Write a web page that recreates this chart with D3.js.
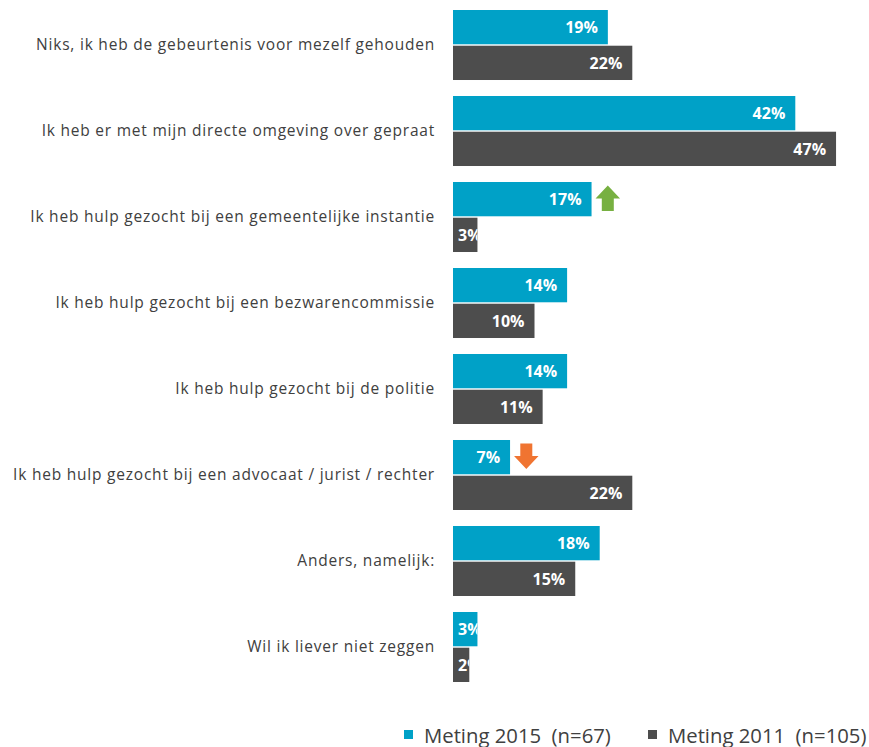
<!DOCTYPE html>
<html>
<head>
<meta charset="utf-8">
<script src="https://cdn.jsdelivr.net/npm/d3@7"></script>
<style>
  body { margin: 0; background: #fff; }
  svg { display: block; font-family: "Open Sans", sans-serif; }
</style>
</head>
<body>
<div id="chart"></div>
<script>
// data
var categories = [
    "Niks, ik heb de gebeurtenis voor mezelf gehouden",
    "Ik heb er met mijn directe omgeving over gepraat",
    "Ik heb hulp gezocht bij een gemeentelijke instantie",
    "Ik heb hulp gezocht bij een bezwarencommissie",
    "Ik heb hulp gezocht bij de politie",
    "Ik heb hulp gezocht bij een advocaat / jurist / rechter",
    "Anders, namelijk:",
    "Wil ik liever niet zeggen"
];
var values2015 = [19, 42, 17, 14, 14, 7, 18, 3];
var values2011 = [22, 47, 3, 10, 11, 22, 15, 2];
// significant change 2015 vs 2011
var trend = [null, null, "up", null, null, "down", null, null];
var seriesNames = ["Meting 2015  (n=67)", "Meting 2011  (n=105)"];
var seriesKeys = ["2015", "2011"];

var width = 869, height = 747;
var colors = {"2015": "#00A1C7", "2011": "#4D4D4D"};
var textColor = "#404040";

const svg = d3.select("#chart").append("svg")
    .attr("width", width)
    .attr("height", height);

// x axis (not drawn)
var x = d3.scaleLinear().domain([0, 50]).range([453, 860.5]);

// y bands per category, then per series
var y = d3.scaleBand().domain(categories).range([10, 682])
    .paddingInner(0.186).paddingOuter(0);
var ySub = d3.scaleBand().domain(seriesKeys).range([0, y.bandwidth()])
    .paddingInner(0.04);

// flatten to [category, series, value]
var rows = [];
categories.forEach(function (c, i) {
    rows.push({cat: c, key: "2015", value: values2015[i], idx: i});
    rows.push({cat: c, key: "2011", value: values2011[i], idx: i});
});

// category labels
svg.append("g").selectAll("text")
    .data(categories)
    .enter().append("text")
    .attr("x", 435)
    .attr("y", function (d) { return y(d) + y.bandwidth() / 2; })
    .attr("dy", "0.35em")
    .attr("text-anchor", "end")
    .attr("fill", textColor)
    .style("font-size", "15.5px")
    .style("letter-spacing", "0.78px")
    .text(function (d) { return d; });

// clip paths so labels never leave the bar
var defs = svg.append("defs");
defs.selectAll("clipPath")
    .data(rows)
    .enter().append("clipPath")
    .attr("id", function (d, i) { return "clip" + i; })
    .append("rect")
    .attr("x", x(0))
    .attr("y", function (d) { return y(d.cat) + ySub(d.key); })
    .attr("width", function (d) { return x(d.value) - x(0); })
    .attr("height", ySub.bandwidth());

var bars = svg.append("g").selectAll("g")
    .data(rows)
    .enter().append("g");

bars.append("rect")
    .attr("x", x(0))
    .attr("y", function (d) { return y(d.cat) + ySub(d.key); })
    .attr("width", function (d) { return x(d.value) - x(0); })
    .attr("height", ySub.bandwidth())
    .attr("fill", function (d) { return colors[d.key]; });

bars.append("text")
    .attr("clip-path", function (d, i) { return "url(#clip" + i + ")"; })
    .attr("y", function (d) { return y(d.cat) + ySub(d.key) + ySub.bandwidth() / 2; })
    .attr("dy", "0.36em")
    .attr("text-anchor", "end")
    .attr("fill", "#fff")
    .style("font-size", "16px")
    .style("font-weight", "bold")
    .text(function (d) { return d.value + "%"; })
    .attr("x", function (d) {
        var len = this.getComputedTextLength();
        return Math.max(x(d.value) - 10, x(0) + 5 + len);
    });

// trend arrows next to the 2015 bar
var arrowColor = {up: "#77B041", down: "#F07431"};
svg.append("g").selectAll("path")
    .data(rows.filter(function (d) { return d.key == "2015" && trend[d.idx]; }))
    .enter().append("path")
    .attr("fill", function (d) { return arrowColor[trend[d.idx]]; })
    .attr("d", function (d) {
        var left = x(d.value) + 4;
        var cy = y(d.cat) + ySub(d.key) + ySub.bandwidth() / 2 - 1;
        var w = 24.5, h = 25.5, sw = 12, hh = 13;
        var p = d3.path();
        var cx = left + w / 2;
        if (trend[d.idx] == "up") {
            var top = cy - h / 2;
            p.moveTo(cx, top);
            p.lineTo(left + w, top + hh);
            p.lineTo(cx + sw / 2, top + hh);
            p.lineTo(cx + sw / 2, top + h);
            p.lineTo(cx - sw / 2, top + h);
            p.lineTo(cx - sw / 2, top + hh);
            p.lineTo(left, top + hh);
        } else {
            var bot = cy + h / 2;
            p.moveTo(cx, bot);
            p.lineTo(left + w, bot - hh);
            p.lineTo(cx + sw / 2, bot - hh);
            p.lineTo(cx + sw / 2, bot - h);
            p.lineTo(cx - sw / 2, bot - h);
            p.lineTo(cx - sw / 2, bot - hh);
            p.lineTo(left, bot - hh);
        }
        p.closePath();
        return p.toString();
    });

// legend
var legendX = [404, 648];
var legend = svg.append("g").selectAll("g")
    .data(seriesKeys)
    .enter().append("g")
    .attr("transform", function (d, i) { return "translate(" + legendX[i] + ",730)"; });
legend.append("rect")
    .attr("width", 9)
    .attr("height", 9)
    .attr("fill", function (d) { return colors[d]; });
legend.append("text")
    .attr("x", 20)
    .attr("y", 12.5)
    .attr("fill", textColor)
    .style("font-size", "20.3px")
    .attr("xml:space", "preserve")
    .style("white-space", "pre")
    .text(function (d, i) { return seriesNames[i]; });
</script>
</body>
</html>
